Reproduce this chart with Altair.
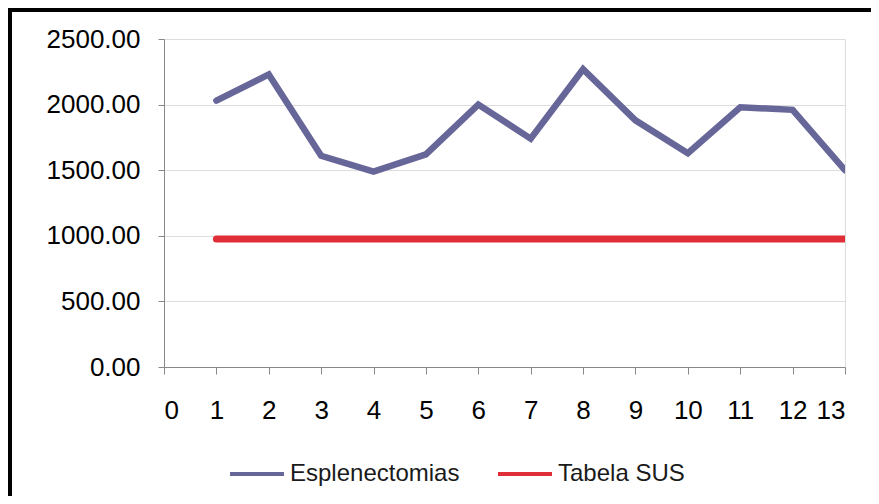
import altair as alt
import pandas as pd

casos = [1, 2, 3, 4, 5, 6, 7, 8, 9, 10, 11, 12, 13]
esplenectomias = [2030, 2230, 1610, 1490, 1620, 2000, 1740, 2270, 1880, 1630, 1980, 1960, 1500]
tabela_sus = [975, 975, 975, 975, 975, 975, 975, 975, 975, 975, 975, 975, 975]
series_names = ["Esplenectomias", "Tabela SUS"]
series_colors = ["#666699", "#DF2E38"]
x_ticks = [0, 1, 2, 3, 4, 5, 6, 7, 8, 9, 10, 11, 12, 13]
y_ticks = [0, 500, 1000, 1500, 2000, 2500]

df_e = pd.DataFrame({"caso": casos, "valor": esplenectomias, "serie": series_names[0]})
df_s = pd.DataFrame({"caso": casos, "valor": tabela_sus, "serie": series_names[1]})

FONT = "Liberation Sans"

x_enc = alt.X(
    "caso:Q",
    scale=alt.Scale(domain=[0, 13], nice=False, zero=False),
    axis=alt.Axis(values=x_ticks, title=None, grid=False, tickSize=7,
                  labelPadding=23, labelFontSize=26, format="d"),
)
y_enc = alt.Y(
    "valor:Q",
    scale=alt.Scale(domain=[0, 2500], nice=False),
    axis=alt.Axis(values=y_ticks, title=None, grid=True, tickSize=6,
                  labelPadding=18, labelFontSize=26, format=".2f"),
)
color_enc = alt.Color(
    "serie:N",
    scale=alt.Scale(domain=series_names, range=series_colors),
    legend=alt.Legend(
        title=None, orient="none", direction="horizontal",
        legendX=64, legendY=406,
        symbolType="stroke", symbolSize=2916, symbolStrokeWidth=4,
        labelFontSize=24, labelFont=FONT, labelColor="#1a1a1a",
        labelOffset=4, columnPadding=30, padding=0, labelLimit=400,
    ),
)

line_e = alt.Chart(df_e).mark_line(
    strokeWidth=6.5, strokeCap="round", strokeJoin="miter", clip=True
).encode(x=x_enc, y=y_enc, color=color_enc)

line_s = alt.Chart(df_s).mark_line(
    strokeWidth=7, strokeCap="round", strokeJoin="miter", clip=True
).encode(x=x_enc, y=y_enc, color=color_enc)

frame = alt.Chart(pd.DataFrame({"a": [0]})).mark_rect(
    filled=False, stroke="black", strokeWidth=4, clip=False
).encode(
    x=alt.value(-154), y=alt.value(-29), x2=alt.value(1200), y2=alt.value(1200)
)

chart = alt.layer(frame, line_e, line_s).properties(
    width=681, height=328,
    autosize=alt.AutoSizeParams(type="none"),
    padding={"left": 156, "top": 31, "right": 26, "bottom": 129},
).configure_view(
    strokeWidth=0
).configure_axis(
    labelFont=FONT, labelColor="#1a1a1a",
    domainColor="#a6a6a6", domainWidth=1.5,
    tickColor="#a6a6a6", tickWidth=1.5,
    gridColor="#a8a8a8", gridWidth=2, gridOpacity=1,
).configure(
    background="white"
)

chart.save("out.html", embed_options={"renderer": "svg", "actions": False})
